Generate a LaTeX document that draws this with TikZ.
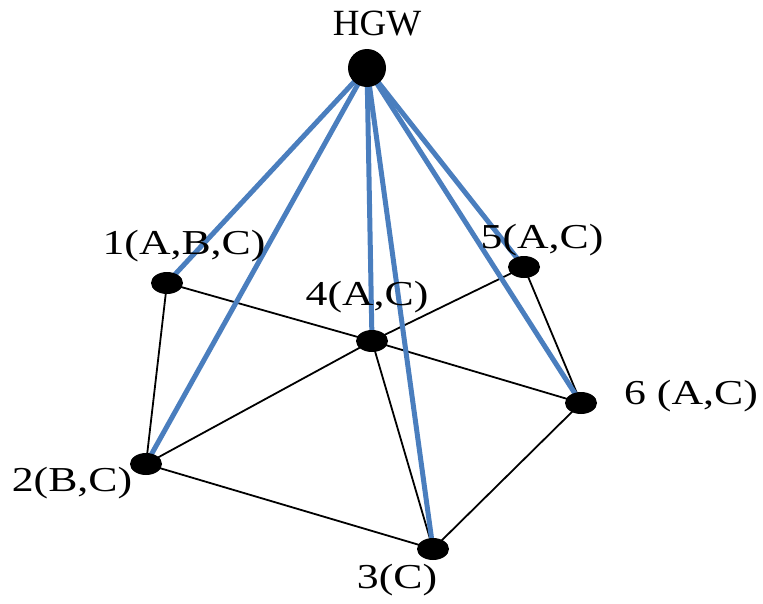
\documentclass[tikz,border=0pt]{standalone}
\usepackage{fontspec}
\setmainfont{Liberation Serif}
\usetikzlibrary{shapes.geometric,backgrounds}
\definecolor{linkblue}{RGB}{74,126,190}
\begin{document}
\begin{tikzpicture}[x=1pt,y=-1pt,
  dot/.style={ellipse,fill=black,inner sep=0pt,minimum width=32pt,minimum height=22pt},
  gw/.style={circle,fill=black,inner sep=0pt,minimum size=38pt},
  lbl/.style={font=\fontsize{35}{35}\selectfont,xscale=1.25,transform shape,inner sep=0pt},
  wire/.style={black,line width=1.8pt},
  link/.style={linkblue,line width=5pt}]
\useasboundingbox (0,0) rectangle (763,603);
\node[gw] (h) at (367,68) {};
\node[dot] (n1) at (167,283) {};
\node[dot] (n2) at (146,464) {};
\node[dot] (n3) at (433,549) {};
\node[dot] (n4) at (372,341) {};
\node[dot] (n5) at (524,267) {};
\node[dot] (n6) at (581,403) {};
\node[font=\fontsize{37}{37}\selectfont,inner sep=0pt] (th) at (377,24) {HGW};
\node[lbl] (t1) at (184,246) {1(A,B,C)};
\node[lbl] (t2) at (72,483) {2(B,C)};
\node[lbl] (t3) at (397,580) {3(C)};
\node[lbl] (t4) at (367,297) {4(A,C)};
\node[lbl] (t5) at (542,240) {5(A,C)};
\node[lbl] (t6) at (691,396) {6 (A,C)};
\begin{scope}[on background layer]
\draw[wire] (n1.center) -- (n2.center);
\draw[wire] (n1.center) -- (n4.center) -- (n6.center);
\draw[wire] (n2.center) -- (n4.center) -- (n5.center);
\draw[wire] (n5.center) -- (n6.center);
\draw[wire] (n2.center) -- (n3.center) -- (n6.center);
\draw[wire] (n4.center) -- (n3.center);
\foreach \n in {n1,n2,n3,n4,n5,n6}
  \draw[link] (h.center) -- (\n.center);
\end{scope}
\end{tikzpicture}
\end{document}
